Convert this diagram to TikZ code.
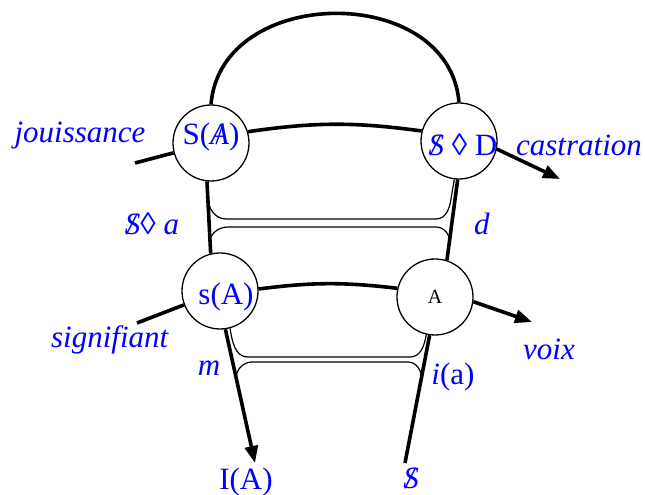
\documentclass[tikz,border=0pt]{standalone}
\usepackage{fontspec}
\setmainfont{Liberation Serif}
\usepackage{xcolor}
\usetikzlibrary{calc,arrows.meta}
\newcommand{\barS}{\ooalign{\textit{S}\cr\hidewidth\textit{/}\hidewidth\cr}}
\newcommand{\barA}{\ooalign{\textit{A}\cr\hidewidth/\hidewidth\cr}}

\begin{document}
\begin{tikzpicture}[x=1pt,y=1pt,
  ring/.style={draw,circle,line width=1.3pt,minimum size=76pt,inner sep=0pt},
  lab/.style={text=blue,font=\fontsize{31}{36}\selectfont,inner sep=0pt},
  heavy/.style={line width=3.6pt},
  thin/.style={line width=1.2pt},
  tip/.style={-{Triangle[length=17pt,width=13pt]}}]
\useasboundingbox(0,0)rectangle(645,495);
\node[ring](SA)at(211,352){};
\node[ring](SD)at(459,354){};
\node[ring](sA)at(220,204){};
\node[ring,font=\fontsize{20}{22}\selectfont](A)at(435,198){A};
\coordinate(jo)at(135,332);
\coordinate(si)at(137,172);
\coordinate(ca)at(560,316);
\coordinate(vo)at(532,173);
\coordinate(ia)at(255,32);
\coordinate(sb)at(405,32);
% the two chains and the vectors
\draw[heavy](jo)--(SA);
\draw[heavy](SA.north)..controls+(10,120)and+(-10,120)..(SD.north);
\draw[heavy](SA.17)to[bend left=8](SD.165);
\draw[heavy,tip](SD.-12)--(ca);
\draw[heavy](si)--(sA);
\draw[heavy](sA.3)to[bend left=7](A.167);
\draw[heavy,tip](A.-7)--(vo);
\draw[heavy](SA.-96)--(sA.104);
\draw[heavy](SD.-92)--(A.72);
\draw[heavy,tip](sA.-82)--(ia);
\draw[heavy](A.-98)--(sb);
% loops
\coordinate(u1)at($(SA.-96)!.22!(sA.104)$);
\coordinate(u2)at($(SA.-96)!.85!(sA.104)$);
\coordinate(u3)at($(SD.-92)!.78!(A.72)$);
\coordinate(l1)at($(sA.-82)!.38!(ia)$);
\coordinate(l2)at($(A.-98)!.35!(sb)$);
\draw[thin](u1)to[out=-88,in=180](226,276)--(436,276)to[out=0,in=-98](451,296)--(SD.-97);
\draw[thin](u2)to[out=92,in=180](228,268)--(436,268)to[out=0,in=82](u3);
\draw[thin](sA.-75)to[out=-80,in=180](248,138)--(410,138)to[out=0,in=-100](A.-103);
\draw[thin](l1)to[out=103,in=180](252,133)--(408,133)to[out=0,in=79](l2);
% labels
\node[lab](tSA)at(211,358){S(\barA)};
\node[lab](tSD)at(463,350){\barS\ ◊ D};
\node[lab](tsA)at(226,198){s(A)};
\node[lab](jou)at(80,359){\textit{jouissance}};
\node[lab](cas)at(579,350){\textit{castration}};
\node[lab](sda)at(152,271){\barS◊ \textit{a}};
\node[lab](dd)at(482,271){\textit{d}};
\node[lab](sig)at(110,155){\textit{signifiant}};
\node[lab](mm)at(209,127){\textit{m}};
\node[lab](vx)at(549,146){\textit{voix}};
\node[lab](ta)at(453,118){\textit{i}(a)};
\node[lab](IA)at(246,13){I(A)};
\node[lab](Sb)at(411,17){\barS};
\end{tikzpicture}
\end{document}
